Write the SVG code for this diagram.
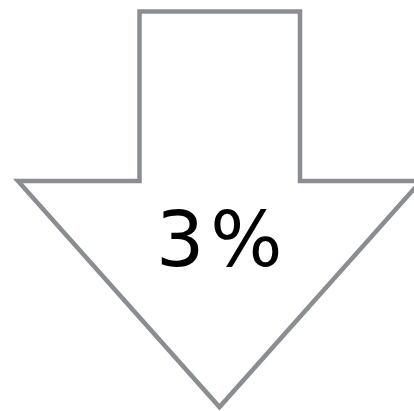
<svg xmlns="http://www.w3.org/2000/svg" width="414" height="411" viewBox="0 0 414 411">
<style>
.arrow{fill:#ffffff;stroke:#8a8d91;stroke-width:4.5;stroke-linejoin:miter}
.lbl{font-family:"DejaVu Sans",Verdana,sans-serif;font-size:76px;fill:#000000;letter-spacing:6px}
</style>
<rect width="414" height="411" fill="#ffffff"/>
<g id="arrow">
<polygon class="arrow" points="139.5,11.5 300,11.5 300,181 421,181 219.5,407 18,181 139.5,181"/>
<text class="lbl" x="156" y="266">3%</text>
</g>
</svg>
